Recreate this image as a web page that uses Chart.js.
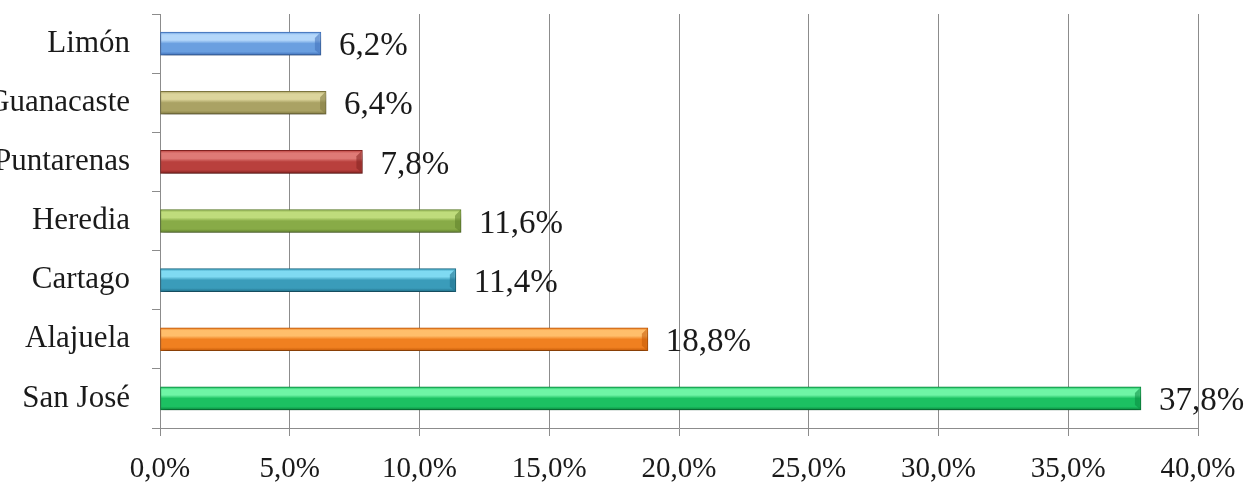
<!DOCTYPE html>
<html>
<head>
<meta charset="utf-8">
<script src="https://cdn.jsdelivr.net/npm/chart.js@4/dist/chart.umd.min.js"></script>
<style>
  html, body { margin: 0; padding: 0; background: #ffffff; }
  #wrap { width: 1248px; height: 495px; }
</style>
</head>
<body>
<div id="wrap"><canvas id="c" width="1248" height="495"></canvas></div>
<script>
const categories = ['Limón', 'Guanacaste', 'Puntarenas', 'Heredia', 'Cartago', 'Alajuela', 'San José'];
const values = [6.2, 6.4, 7.8, 11.6, 11.4, 18.8, 37.8];
const xTickValues = [0, 5, 10, 15, 20, 25, 30, 35, 40];
// [light, base, dark] per bar
const barColors = [
  ['#b4d7fa', '#6a9fe0', '#3f70ba'],
  ['#dcd59c', '#aaa264', '#7f7840'],
  ['#df7a76', '#b9403d', '#842321'],
  ['#bfdc7c', '#88ab47', '#5f7f2a'],
  ['#7fdaf2', '#3a9cba', '#1f6e88'],
  ['#ffbe6b', '#f08020', '#c45a08'],
  ['#6ff5a6', '#1cc162', '#0a8a3f']
];

const fmt = v => v.toFixed(1).replace('.', ',') + '%';
const FONT = "'Liberation Serif', 'Times New Roman', serif";

const barStyler = {
  id: 'barStyler',
  beforeDatasetsDraw(chart) {
    const ctx = chart.ctx;
    chart.getDatasetMeta(0).data.forEach((el, i) => {
      const h = el.height;
      const top = el.y - h / 2;
      const c = barColors[i];
      const g = ctx.createLinearGradient(0, top, 0, top + h);
      g.addColorStop(0, c[1]);
      g.addColorStop(0.12, c[0]);
      g.addColorStop(0.35, c[0]);
      g.addColorStop(0.5, c[1]);
      g.addColorStop(0.85, c[1]);
      g.addColorStop(1, c[2]);
      el.options.backgroundColor = g;
      el.options.borderColor = c[2];
    });
    ctx.save();
    ctx.shadowColor = 'rgba(0,0,0,0.35)';
    ctx.shadowBlur = 6;
    ctx.shadowOffsetX = 1;
    ctx.shadowOffsetY = 4;
  },
  afterDatasetsDraw(chart) {
    const ctx = chart.ctx;
    ctx.restore();
    chart.getDatasetMeta(0).data.forEach((el, i) => {
      const h = el.height;
      const top = el.y - h / 2;
      const c = barColors[i];
      ctx.save();
      ctx.fillStyle = c[2];
      ctx.globalAlpha = 0.55;
      ctx.beginPath();
      ctx.moveTo(el.x - 1, top + 1);
      ctx.lineTo(el.x - 1, top + h - 1);
      ctx.lineTo(el.x - 6, top + h - 5);
      ctx.lineTo(el.x - 6, top + 6);
      ctx.closePath();
      ctx.fill();
      ctx.restore();
      ctx.save();
      ctx.font = '33px ' + FONT;
      ctx.fillStyle = '#1a1a1a';
      ctx.textAlign = 'left';
      ctx.textBaseline = 'middle';
      ctx.fillText(fmt(values[i]), el.x + 18, el.y + 3);
      ctx.restore();
    });
  }
};

new Chart(document.getElementById('c'), {
  type: 'bar',
  data: {
    labels: categories,
    datasets: [{
      data: values,
      barThickness: 23,
      borderWidth: 1,
      borderSkipped: false,
      backgroundColor: barColors.map(c => c[1])
    }]
  },
  options: {
    indexAxis: 'y',
    responsive: false,
    animation: false,
    layout: { padding: { top: 14, right: 50, bottom: 0, left: 0 } },
    plugins: { legend: { display: false }, tooltip: { enabled: false } },
    scales: {
      x: {
        min: 0, max: 40,
        afterBuildTicks(scale) { scale.ticks = xTickValues.map(v => ({ value: v })); },
        afterFit(scale) { scale.height = 67; scale.paddingLeft = 0; scale.paddingRight = 0; },
        border: { color: '#8c8c8c', width: 1 },
        grid: { color: '#8c8c8c', lineWidth: 1, tickLength: 8, drawTicks: true },
        ticks: {
          callback: v => fmt(v),
          font: { family: FONT, size: 29 },
          color: '#1a1a1a',
          padding: 16,
          maxRotation: 0
        }
      },
      y: {
        afterFit(scale) { scale.width = 160; scale.paddingTop = 0; scale.paddingBottom = 0; },
        border: { color: '#8c8c8c', width: 1 },
        grid: { drawOnChartArea: false, drawTicks: true, tickLength: 8, color: '#8c8c8c', offset: true },
        ticks: {
          font: { family: FONT, size: 31 },
          color: '#1a1a1a',
          padding: 22
        }
      }
    }
  },
  plugins: [barStyler]
});
</script>
</body>
</html>
